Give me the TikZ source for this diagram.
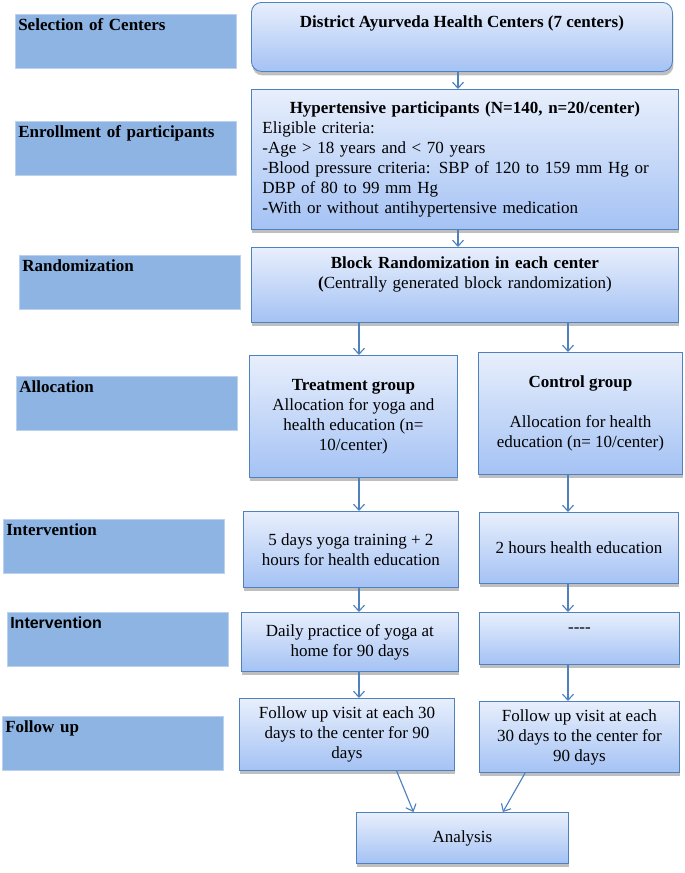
\documentclass[tikz,border=0pt]{standalone}
\usepackage{fontspec}
\setmainfont{Liberation Serif}
\setsansfont{Liberation Sans}
\usetikzlibrary{arrows.meta}
\usetikzlibrary{calc}
\usetikzlibrary{shadows}
\tikzset{>={Straight Barb[length=6pt,width=11pt]}}
\definecolor{flowblue}{RGB}{79,129,189}
\definecolor{boxtop}{RGB}{232,239,252}
\definecolor{boxbottom}{RGB}{164,194,244}
\definecolor{stageblue}{RGB}{141,180,226}
\tikzstyle{flowbox}=[draw=flowblue,line width=0.3mm,top color=boxtop,bottom color=boxbottom,
  drop shadow={shadow xshift=1pt,shadow yshift=-4pt,fill=black!50,opacity=0.5},
  anchor=north west,align=center,inner sep=3pt,font=\fontsize{17}{20}\selectfont]
\tikzstyle{stagebox}=[fill=stageblue,draw=stageblue!60!white,line width=0.2mm,anchor=north west,
  text width=215pt,align=left,inner sep=3pt,text height=13pt,text depth=35pt,
  font=\fontsize{17}{20}\selectfont\bfseries]
\tikzstyle{flowline}=[draw=flowblue,line width=0.4mm,->]

\begin{document}
\begin{tikzpicture}[x=1pt,y=-1pt]
    \useasboundingbox (0,0) rectangle (685,873);

    % Stage labels on the left
    \node[stagebox] (selection) at (15,14) {Selection of Centers};
    \node[stagebox] (enrollment) at (15,121) {Enrollment of participants};
    \node[stagebox] (randomization) at (19,255) {Randomization};
    \node[stagebox] (allocation) at (16,376) {Allocation};
    \node[stagebox] (intervention) at (3,519) {Intervention};
    \node[stagebox,font=\fontsize{16}{20}\selectfont\sffamily\bfseries] (interventionb) at (7,612) {Intervention};
    \node[stagebox] (followup) at (2,716) {Follow up};

    % Common part of the flow
    \node[flowbox,rounded corners=10pt,minimum width=421pt,text height=22pt,text depth=41pt] (district) at (251,2)
        {\textbf{District Ayurveda Health Centers (7 centers)}};
    \node[flowbox,text width=405pt,inner xsep=11pt,minimum height=140pt,align=left] (hyper) at (251,89)
        {{\centering\textbf{Hypertensive participants (N=140, n=20/center)}\par}
        \noindent Eligible criteria:\\
        -Age > 18 years and < 70 years\\
        -Blood pressure criteria: SBP of 120 to 159 mm Hg or\\
        DBP of 80 to 99 mm Hg\\
        -With or without antihypertensive medication};
    \node[flowbox,text width=405pt,inner xsep=11pt,text height=18pt,text depth=51pt] (block) at (251,247)
        {\textbf{Block Randomization in each center}\\
        \textbf{(}Centrally generated block randomization)};

    % Treatment arm
    \node[flowbox,minimum width=208pt,minimum height=122pt] (treat) at (249,355)
        {\textbf{Treatment group}\\ Allocation for yoga and\\ health education (n=\\ 10/center)};
    \node[flowbox,minimum width=215pt,minimum height=76pt] (yoga) at (243,511)
        {5 days yoga training + 2\\ hours for health education};
    \node[flowbox,minimum width=217pt,minimum height=59pt] (daily) at (241,612)
        {Daily practice of yoga at\\ home for 90 days};
    \node[flowbox,minimum width=215pt,minimum height=72pt] (followl) at (239,698)
        {Follow up visit at each 30\\ days to the center for 90\\ days};

    % Control arm
    \node[flowbox,minimum width=204pt,minimum height=122pt] (control) at (478,352)
        {\textbf{Control group}\\[20pt] Allocation for health\\ education (n= 10/center)};
    \node[flowbox,minimum width=199pt,minimum height=71pt] (health) at (479,512)
        {2 hours health education};
    \node[flowbox,minimum width=200pt,minimum height=52pt,text depth=16pt] (dashes) at (479,612) {-{}-{}-{}-};
    \node[flowbox,minimum width=200pt,minimum height=71pt] (followr) at (479,701)
        {Follow up visit at each\\ 30 days to the center for\\ 90 days};

    \node[flowbox,minimum width=212pt,minimum height=51pt] (analysis) at (356,812) {Analysis};

    % Arrows
    \coordinate (mainline) at (458,0);
    \coordinate (treatline) at (359,0);
    \coordinate (controlline) at (568,0);
    \draw[flowline] (district.south -| mainline) -- (hyper.north -| mainline);
    \draw[flowline] (hyper.south -| mainline) -- (block.north -| mainline);
    \draw[flowline] (block.south -| treatline) -- (treat.north -| treatline);
    \draw[flowline] (block.south -| controlline) -- (control.north -| controlline);
    \draw[flowline] (treat.south -| treatline) -- (yoga.north -| treatline);
    \draw[flowline] (control.south -| controlline) -- (health.north -| controlline);
    \draw[flowline] (yoga.south -| treatline) -- (daily.north -| treatline);
    \draw[flowline] (health.south -| controlline) -- (dashes.north -| controlline);
    \draw[flowline] (daily.south -| treatline) -- (followl.north -| treatline);
    \draw[flowline] (dashes.south -| controlline) -- (followr.north -| controlline);
    \draw[flowline] ($(followl.south west)!0.73!(followl.south east)$) -- ($(analysis.north west)!0.27!(analysis.north east)$);
    \draw[flowline] ($(followr.south west)!0.23!(followr.south east)$) -- ($(analysis.north west)!0.69!(analysis.north east)$);
\end{tikzpicture}
\end{document}
